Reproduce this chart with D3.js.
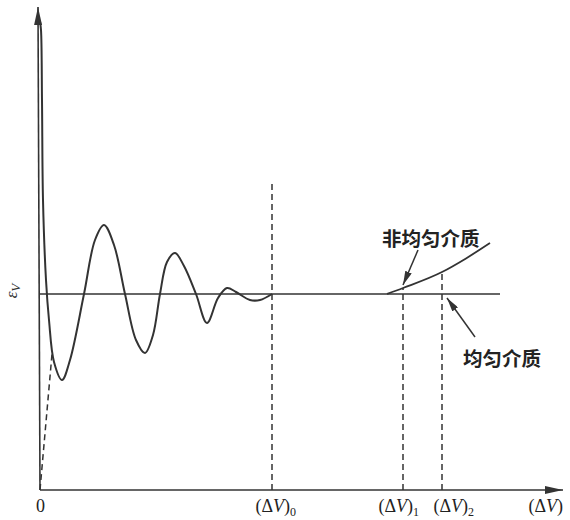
<!DOCTYPE html>
<meta charset="utf-8">
<style>
body { margin: 0; background: #fff; }
.tick text { font-family: "Liberation Serif", serif; font-size: 18px; fill: #222; }
.note { font-family: "Noto Sans CJK SC", sans-serif; font-size: 19.5px; font-weight: 700; fill: #222; }
</style>
<body>
<div id="chart"></div>
<script src="https://d3js.org/d3.v7.min.js"></script>
<script>
// oscillating response curve (x: ΔV, y: εV)
var waveX = [0, 0.25, 0.5, 0.75, 1.5, 2.25, 3.5, 5.5, 7.5, 11, 13.75, 16, 18.5, 21.25, 24, 26.25, 28.25, 30, 31.75, 33.75, 36, 39, 41.75, 44.5, 46.75, 49, 52.5, 55, 58];
var waveY = [117, 115, 97.5, 72.5, 52.5, 42.5, 32, 27.5, 32.5, 49, 62.5, 66.25, 61.25, 49, 37.5, 34.25, 38.75, 49, 57, 59.25, 56, 49, 41.75, 48, 50.5, 49.5, 47.5, 47.5, 49];
// non-homogeneous medium branch
var branchX = [86.75, 90.75, 100.5, 106.5, 112.5];
var branchY = [49, 50.5, 54.5, 57.9, 61.75];
var baseLevel = 49;
var baseEnd = 115;
// dashed tangent from the origin
var tangentX = [0, 3];
var tangentY = [0, 34];
// marked abscissae
var markNames = ["0", "0", "1", "2", ""];
var markX = [0, 58, 90.75, 100.5, 127.5];
var markTop = [null, 76.75, 50.5, 54.5, null];
var labelShift = [0, -17, -25, -9, -22];   // label start relative to its mark

var W = 570, H = 520;
var x = d3.scaleLinear().domain([0, 130]).range([40, 560]);
var y = d3.scaleLinear().domain([0, 120]).range([490, 10]);

var svg = d3.select("#chart").append("svg")
  .attr("width", W).attr("height", H);

var defs = svg.append("defs");
defs.append("marker").attr("id", "axisArrow")
  .attr("viewBox", "0 0 18 8").attr("refX", 18).attr("refY", 4)
  .attr("markerWidth", 18).attr("markerHeight", 8)
  .attr("markerUnits", "userSpaceOnUse").attr("orient", "auto")
  .append("path").attr("d", "M0,0 L18,4 L0,8 Z").attr("fill", "#333");
defs.append("marker").attr("id", "noteArrow")
  .attr("viewBox", "0 0 14 7").attr("refX", 14).attr("refY", 3.5)
  .attr("markerWidth", 14).attr("markerHeight", 7)
  .attr("markerUnits", "userSpaceOnUse").attr("orient", "auto")
  .append("path").attr("d", "M0,0 L14,3.5 L0,7 Z").attr("fill", "#333");

var ink = "#333";

// x axis with labels
var xAxis = svg.append("g")
  .attr("transform", "translate(0," + y(0) + ")")
  .call(d3.axisBottom(x).tickValues(markX).tickSize(0).tickPadding(0).tickFormat(""));
xAxis.select(".domain").remove();
xAxis.selectAll(".tick text").each(function(d, i) {
  var t = d3.select(this).attr("y", 22).attr("dy", null);
  if (i === 0) { t.text("0"); return; }
  t.attr("text-anchor", "start").attr("x", labelShift[i]);
  t.append("tspan").text("(Δ");
  t.append("tspan").attr("font-style", "italic").text("V");
  t.append("tspan").text(")");
  if (markNames[i]) t.append("tspan").attr("font-size", "12px").attr("dy", "4").text(markNames[i]);
});

svg.append("line")
  .attr("x1", x(0)).attr("y1", y(0)).attr("x2", 563).attr("y2", y(0))
  .attr("stroke", ink).attr("stroke-width", 1.6).attr("marker-end", "url(#axisArrow)");
svg.append("line")
  .attr("x1", x(0)).attr("y1", y(0)).attr("x2", 38).attr("y2", 7)
  .attr("stroke", ink).attr("stroke-width", 1.6).attr("marker-end", "url(#axisArrow)");

// y label
svg.append("text")
  .attr("transform", "translate(17,291) rotate(-90)")
  .attr("text-anchor", "middle")
  .attr("font-family", "Liberation Serif, serif").attr("font-style", "italic")
  .attr("font-size", "17px").attr("fill", "#333")
  .text("ε").append("tspan").attr("font-size", "13px").attr("dy", "3").text("V");

// homogeneous level
svg.append("line")
  .attr("x1", x(0)).attr("x2", x(baseEnd))
  .attr("y1", y(baseLevel)).attr("y2", y(baseLevel))
  .attr("stroke", ink).attr("stroke-width", 1.6);

// vertical dashed markers
svg.selectAll(".mark").data(markX.filter(function(d, i) { return markTop[i] !== null; }))
  .enter().append("line")
  .attr("x1", function(d) { return x(d); }).attr("x2", function(d) { return x(d); })
  .attr("y1", y(0))
  .attr("y2", function(d) { return y(markTop[markX.indexOf(d)]); })
  .attr("stroke", ink).attr("stroke-width", 1.5).attr("stroke-dasharray", "6,4");

// tangent
svg.append("line")
  .attr("x1", x(tangentX[0])).attr("y1", y(tangentY[0]))
  .attr("x2", x(tangentX[1])).attr("y2", y(tangentY[1]))
  .attr("stroke", ink).attr("stroke-width", 1.5).attr("stroke-dasharray", "6,4");

var line = d3.line()
  .x(function(d) { return x(d[0]); })
  .y(function(d) { return y(d[1]); })
  .curve(d3.curveCatmullRom.alpha(0.5));

svg.append("path")
  .datum(d3.zip(waveX, waveY))
  .attr("d", line).attr("fill", "none")
  .attr("stroke", ink).attr("stroke-width", 2);

svg.append("path")
  .datum(d3.zip(branchX, branchY))
  .attr("d", line.curve(d3.curveMonotoneX)).attr("fill", "none")
  .attr("stroke", ink).attr("stroke-width", 1.8);

// annotations
svg.append("text").attr("class", "note").attr("x", 382).attr("y", 246).text("非均匀介质");
svg.append("line")
  .attr("x1", 418).attr("y1", 250).attr("x2", 403).attr("y2", 285)
  .attr("stroke", ink).attr("stroke-width", 1.5).attr("marker-end", "url(#noteArrow)");
svg.append("text").attr("class", "note").attr("x", 463).attr("y", 366).text("均匀介质");
svg.append("line")
  .attr("x1", 475).attr("y1", 337).attr("x2", 447).attr("y2", 298)
  .attr("stroke", ink).attr("stroke-width", 1.5).attr("marker-end", "url(#noteArrow)");
</script>
</body>
